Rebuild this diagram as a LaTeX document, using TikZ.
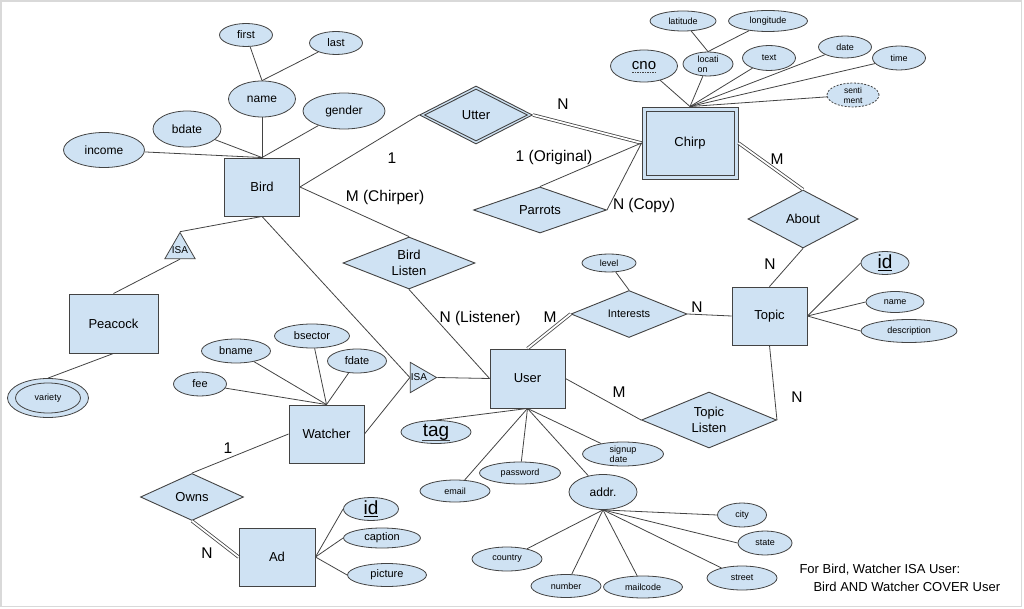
\documentclass[tikz,border=0pt]{standalone}
\usepackage{fontspec}
\setmainfont{Liberation Sans}
\usepackage{tikz}
\usetikzlibrary{shapes.geometric,positioning}
\definecolor{erFill}{HTML}{CFE2F3}
\definecolor{erLine}{HTML}{434343}
\definecolor{erFrame}{HTML}{D9D9D9}

\begin{document}
\begin{tikzpicture}[x=1pt, y=-1pt,
  every node/.style={font=\fontsize{13}{16}\selectfont},
  ent/.style={draw=erLine, line width=0.9pt, fill=erFill, inner sep=0pt,
              minimum width=75pt, minimum height=58pt},
  rel/.style={diamond, draw=erLine, line width=0.9pt, fill=erFill,
              inner sep=0pt, aspect=2.4, align=center},
  attr/.style={ellipse, draw=erLine, line width=0.8pt, fill=erFill,
               inner sep=0pt, align=center, font=\fontsize{9}{10}\selectfont},
  attrM/.style={attr, font=\fontsize{11}{13}\selectfont},
  attrL/.style={attr, font=\fontsize{12}{14}\selectfont},
  keyattr/.style={attr, inner sep=-2pt, font=\fontsize{19}{22}\selectfont},
  isa/.style={regular polygon, regular polygon sides=3, draw=erLine,
              line width=0.8pt, fill=erFill, inner sep=-4pt, minimum size=35pt,
              font=\fontsize{10}{12}\selectfont},
  card/.style={font=\fontsize{15.5}{18}\selectfont},
  lnk/.style={draw=erLine, line width=0.8pt},
  keyline/.style={draw=erLine, line width=0.8pt},
  dbl/.style={lnk, double, double distance=1.8pt},
]
\useasboundingbox (0,0) rectangle (1024,609);
\draw[erFrame, line width=1.5pt] (1,1) rectangle (1021.5,606.5);

% Entities
\node[ent] (bird) at (262,187) {Bird};
\node[ent, minimum width=89pt, minimum height=59pt] (peacock) at (113.5,323.5) {Peacock};
\node[ent] (watcher) at (326.5,434) {Watcher};
\node[ent, minimum width=76pt] (ad) at (277,557) {Ad};
\node[ent, minimum height=59pt] (user) at (527.5,378.5) {User};
\node[ent] (topic) at (769.5,316) {Topic};
% weak entity
\node[ent, minimum width=96pt, minimum height=72pt] (chirpo) at (690,143) {};
\node[ent, minimum width=88pt, minimum height=64pt] (chirp) at (690,143) {Chirp};

% Relationships
\node[rel, minimum width=113pt, minimum height=58pt] (uttero) at (476,115) {};
\node[rel, minimum width=103pt, minimum height=52pt] (utter) at (476,115) {Utter};
\node[rel, minimum width=133pt, minimum height=46pt] (parrots) at (540,210) {Parrots};
\node[rel, minimum width=110pt, minimum height=58pt] (about) at (803,219) {About};
\node[rel, aspect=2.5, minimum width=132pt, minimum height=52pt] (blisten) at (409,263) {Bird\\Listen};
\node[rel, minimum width=116pt, minimum height=47pt,
      font=\fontsize{11}{13}\selectfont] (interests) at (629,314) {Interests};
\node[rel, aspect=2.4, minimum width=135pt, minimum height=56pt] (tlisten) at (709,420) {Topic\\Listen};
\node[rel, minimum width=103pt, minimum height=47pt] (owns) at (192,497) {Owns};

% ISA triangles
\node[isa] (isab) at (180,250) {ISA};
\node[isa, shape border rotate=-90] (isau) at (419,377.5) {ISA};

% Bird attributes
\node[attrM, minimum width=53pt, minimum height=23pt] (first) at (246,35) {first};
\node[attrM, minimum width=53pt, minimum height=23pt] (last) at (336,43) {last};
\node[attrL, minimum width=67pt, minimum height=36pt] (name) at (262,99) {name};
\node[attrL, minimum width=82pt, minimum height=36pt] (gender) at (344,111) {gender};
\node[attrL, minimum width=68pt, minimum height=36pt] (bdate) at (187,129) {bdate};
\node[attrL, minimum width=81pt, minimum height=35pt] (income) at (104,150) {income};

% Peacock attribute (multivalued)
\node[attr, minimum width=81pt, minimum height=39pt] (varo) at (48,398) {};
\node[attr, minimum width=65pt, minimum height=30pt] (variety) at (48,398) {variety};

% Watcher attributes
\node[attrM, minimum width=69pt, minimum height=24pt] (bname) at (236,351) {bname};
\node[attrM, minimum width=75pt, minimum height=24pt] (bsector) at (312,336) {bsector};
\node[attrM, minimum width=59pt, minimum height=24pt] (fdate) at (357,361) {fdate};
\node[attrM, minimum width=53pt, minimum height=24pt] (fee) at (200,384) {fee};

% Ad attributes
\node[keyattr, minimum width=55pt, minimum height=23pt] (adid) at (371,509) {\underline{id}};
\node[attrM, minimum width=77pt, minimum height=20pt] (caption) at (382,538) {caption};
\node[attrM, minimum width=79pt, minimum height=23pt] (picture) at (387,575) {picture};

% Chirp attributes
\node[attr, minimum width=67pt, minimum height=32pt,
      font=\fontsize{15}{18}\selectfont] (cno) at (644,66) {cno};
\draw[keyline, dash pattern=on 1.5pt off 1pt]
  ([xshift=-12pt, yshift=-6.5pt]cno.center) -- ([xshift=12pt, yshift=-6.5pt]cno.center);
\node[attr, minimum width=66pt, minimum height=20pt] (lat) at (683,21) {latitude};
\node[attr, minimum width=79pt, minimum height=21pt] (long) at (768,21) {longitude};
\node[attr, align=left, minimum width=50pt, minimum height=24pt] (loc) at (708,64) {locati\\on};
\node[attr, minimum width=53pt, minimum height=25pt] (text) at (769,58) {text};
\node[attr, minimum width=53pt, minimum height=22pt] (date) at (845,47) {date};
\node[attr, minimum width=53pt, minimum height=24pt] (time) at (899,58) {time};
\node[attr, dashed, dash pattern=on 2pt off 1.5pt, minimum width=52pt, minimum height=24pt,
      font=\fontsize{8.5}{10}\selectfont] (senti) at (853,95) {senti\\ment};

% Topic attributes
\node[attr, minimum width=54pt, minimum height=18pt] (level) at (609,263) {level};
\node[keyattr, minimum width=48pt, minimum height=23pt] (tid) at (885,263) {\underline{id}};
\node[attr, minimum width=58pt, minimum height=21pt] (tname) at (895,302) {name};
\node[attr, minimum width=96pt, minimum height=23pt] (descr) at (909,331) {description};

% User attributes
\node[keyattr, minimum width=70pt, minimum height=23pt] (tag) at (436,432) {tag};
\draw[keyline] ([xshift=-14pt, yshift=-8.5pt]tag.center) -- ([xshift=14pt, yshift=-8.5pt]tag.center);
\node[attr, minimum width=70pt, minimum height=22pt] (email) at (455,491) {email};
\node[attr, minimum width=81pt, minimum height=22pt] (pwd) at (520,473) {password};
\node[attr, align=left, minimum width=81pt, minimum height=24pt] (signup) at (623,454) {signup\\date};
\node[attrL, minimum width=68pt, minimum height=35pt] (addr) at (603,492) {addr.};
\node[attr, minimum width=49pt, minimum height=24pt] (city) at (742,515) {city};
\node[attr, minimum width=54pt, minimum height=24pt] (state) at (765,543) {state};
\node[attr, minimum width=70pt, minimum height=24pt] (street) at (742,578) {street};
\node[attr, minimum width=79pt, minimum height=22pt] (mail) at (643,587) {mailcode};
\node[attr, minimum width=70pt, minimum height=23pt] (number) at (566,586) {number};
\node[attr, minimum width=70pt, minimum height=24pt] (country) at (507,559) {country};

% Cardinalities
\node[card] (cbu) at (392,158) {1};
\node[card] (cbl) at (385,197) {M (Chirper)};
\node[card] (cuc) at (563,104) {N};
\node[card] (cpo) at (554,157) {1 (Original)};
\node[card] (cpc) at (644,205) {N (Copy)};
\node[card] (cac) at (777,159) {M};
\node[card] (cat) at (770,264) {N};
\node[card] (cln) at (480,318) {N (Listener)};
\node[card] (cui) at (550,317) {M};
\node[card] (cit) at (697,307) {N};
\node[card] (cut) at (619,392) {M};
\node[card] (ctt) at (797,397) {N};
\node[card] (cow) at (228,448) {1};
\node[card] (coa) at (207,553) {N};

% Note
\node[anchor=west] (note1) at (796,570) {For Bird, Watcher ISA User:};
\node[anchor=west] (note2) at (810,587) {Bird AND Watcher COVER User};

% Attribute links
\draw[lnk] (first) -- (name.north);
\draw[lnk] (last) -- (name.north);
\draw[lnk] (name) -- (bird.north);
\draw[lnk] (bdate) -- (bird.north);
\draw[lnk] (gender) -- (bird.north);
\draw[lnk] (income) -- (bird.north);
\draw[lnk] (peacock.south) -- (varo.north);
\draw[lnk] (bname) -- (watcher.north);
\draw[lnk] (bsector) -- (watcher.north);
\draw[lnk] (fdate) -- (watcher.north);
\draw[lnk] (fee) -- (watcher.north);
\draw[lnk] (ad.east) -- (adid.west);
\draw[lnk] (ad.east) -- (caption.west);
\draw[lnk] (ad.east) -- (picture.west);
\draw[lnk] (lat) -- (loc.north);
\draw[lnk] (long) -- (loc.north);
\draw[lnk] (cno) -- (chirpo.north);
\draw[lnk] (loc) -- (chirpo.north);
\draw[lnk] (text) -- (chirpo.north);
\draw[lnk] (date) -- (chirpo.north);
\draw[lnk] (time) -- (chirpo.north);
\draw[lnk] (senti) -- (chirpo.north);
\draw[lnk] (level) -- (interests.north);
\draw[lnk] (topic.east) -- (tid.west);
\draw[lnk] (topic.east) -- (tname.west);
\draw[lnk] (topic.east) -- (descr.west);
\draw[lnk] (tag.north) -- (user.south);
\draw[lnk] (email) -- (user.south);
\draw[lnk] (pwd) -- (user.south);
\draw[lnk] (signup) -- (user.south);
\draw[lnk] (addr) -- (user.south);
\draw[lnk] (addr.south) -- (city.west);
\draw[lnk] (addr.south) -- (state.west);
\draw[lnk] (addr.south) -- (street);
\draw[lnk] (addr.south) -- (mail);
\draw[lnk] (addr.south) -- (number);
\draw[lnk] (addr.south) -- (country);

% Relationship links
\draw[lnk] (bird.east) -- (uttero.west);
\draw[dbl] (uttero.east) -- (chirpo.west);
\draw[lnk] (parrots.north) -- (chirpo.west);
\draw[lnk] (parrots.east) -- (chirpo.west);
\draw[dbl] (about.north) -- (chirpo.east);
\draw[lnk] (about.south) -- (topic.north);
\draw[lnk] (bird.east) -- (blisten.north);
\draw[lnk] (blisten.south) -- (user.west);
\draw[dbl] (user.north) -- (interests.west);
\draw[lnk] (interests.east) -- (topic.west);
\draw[lnk] (user.east) -- (tlisten.west);
\draw[lnk] (topic.south) -- (tlisten.east);
\draw[lnk] (owns.north) -- (watcher.west);
\draw[dbl] (owns.south) -- (ad.west);

% ISA links
\draw[lnk] (bird.south) -- (isab.corner 1);
\draw[lnk] (peacock.north) -- (isab.side 2);
\draw[lnk] (bird.south) -- (isau.side 2);
\draw[lnk] (watcher.east) -- (isau.side 2);
\draw[lnk] (isau.corner 1) -- (user.west);

\end{tikzpicture}
\end{document}
